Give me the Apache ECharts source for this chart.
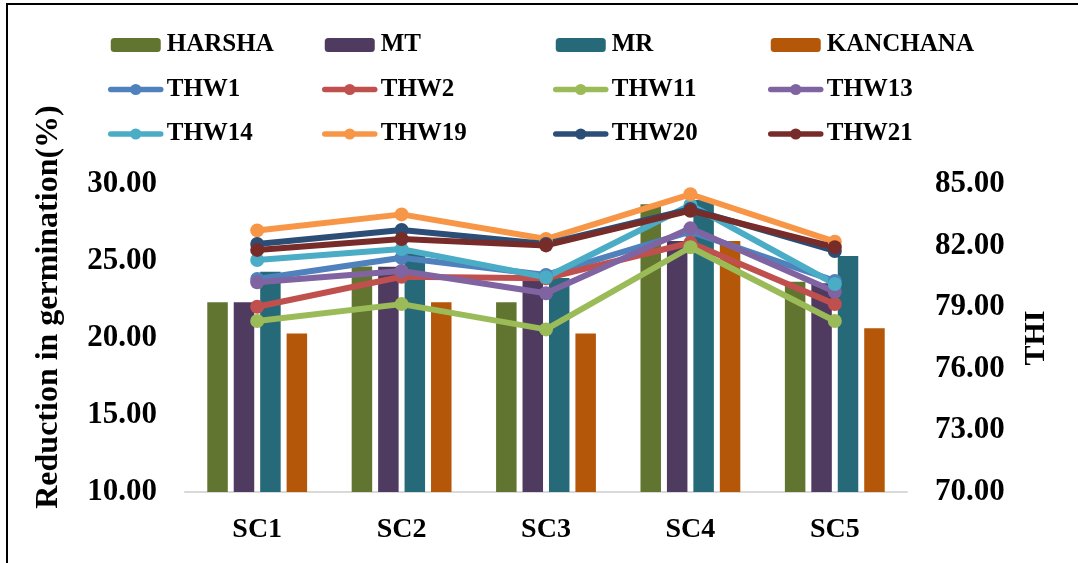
<!DOCTYPE html>
<html>
<head>
<meta charset="utf-8">
<script src="https://cdn.jsdelivr.net/npm/echarts@6/dist/echarts.min.js"></script>
<style>
  html, body { margin: 0; padding: 0; background: #ffffff; }
  #chart { width: 1078px; height: 563px; }
</style>
</head>
<body>
<div id="chart"></div>
<script>
// Sowing conditions on the category axis
const categories = ['SC1', 'SC2', 'SC3', 'SC4', 'SC5'];

// Reduction in germination (%) per variety (left axis, bars)
const harsha   = [22.32, 24.65, 22.32, 28.68, 23.66];
const mt       = [22.32, 24.63, 23.70, 26.30, 23.55];
const mr       = [24.31, 25.50, 23.90, 28.96, 25.32];
const kanchana = [20.30, 22.32, 20.30, 26.30, 20.63];

// Temperature-humidity index per weather station (right axis, lines)
const thw1  = [80.37, 81.41, 80.57, 82.68, 80.28];
const thw2  = [79.02, 80.48, 80.41, 82.14, 79.15];
const thw11 = [78.33, 79.15, 77.92, 81.92, 78.33];
const thw13 = [80.21, 80.76, 79.68, 82.84, 79.75];
const thw14 = [81.30, 81.83, 80.46, 83.98, 80.13];
const thw19 = [82.74, 83.52, 82.32, 84.50, 82.19];
const thw20 = [82.08, 82.76, 82.08, 83.78, 81.74];
const thw21 = [81.79, 82.32, 82.01, 83.70, 81.92];

// Axis tick values
const leftTicks  = [10, 15, 20, 25, 30];
const rightTicks = [70, 73, 76, 79, 82, 85];

const FONT = "'Liberation Serif', 'Times New Roman', serif";

const barSeries = [
  { name: 'HARSHA',   data: harsha,   color: '#627530' },
  { name: 'MT',       data: mt,       color: '#4F3A60' },
  { name: 'MR',       data: mr,       color: '#266A7A' },
  { name: 'KANCHANA', data: kanchana, color: '#B55709' }
];

const lineSeries = [
  { name: 'THW1',  data: thw1,  color: '#4F81BD' },
  { name: 'THW2',  data: thw2,  color: '#C0504D' },
  { name: 'THW11', data: thw11, color: '#9BBB59' },
  { name: 'THW13', data: thw13, color: '#8064A2' },
  { name: 'THW14', data: thw14, color: '#4BACC6' },
  { name: 'THW19', data: thw19, color: '#F79646' },
  { name: 'THW20', data: thw20, color: '#2C4D75' },
  { name: 'THW21', data: thw21, color: '#772C2A' }
];

// Four legend columns, three rows each
const legendColumns = [
  { left: 108, names: ['HARSHA', 'THW1', 'THW14'] },
  { left: 322, names: ['MT', 'THW2', 'THW19'] },
  { left: 553, names: ['MR', 'THW11', 'THW20'] },
  { left: 768, names: ['KANCHANA', 'THW13', 'THW21'] }
];

const series = [];
barSeries.forEach(s => {
  series.push({
    name: s.name,
    type: 'bar',
    yAxisIndex: 0,
    data: s.data,
    barWidth: 20.5,
    barGap: '29%',
    itemStyle: { color: s.color },
    emphasis: { disabled: true }
  });
});
lineSeries.forEach(s => {
  series.push({
    name: s.name,
    type: 'line',
    yAxisIndex: 1,
    data: s.data,
    symbol: 'circle',
    symbolSize: 14,
    lineStyle: { width: 6, color: s.color, cap: 'round', join: 'round' },
    itemStyle: { color: s.color },
    emphasis: { disabled: true }
  });
});

const chart = echarts.init(document.getElementById('chart'), null, { renderer: 'canvas' });

chart.setOption({
  animation: false,
  backgroundColor: '#ffffff',
  textStyle: { fontFamily: FONT },
  graphic: [{
    type: 'rect',
    shape: { x: 7, y: 4, width: 1300, height: 800 },
    style: { fill: 'none', stroke: '#000000', lineWidth: 2 },
    silent: true
  }],
  legend: legendColumns.map(col => ({
    orient: 'vertical',
    left: col.left,
    top: 30,
    padding: 0,
    itemWidth: 50,
    itemHeight: 14,
    itemGap: 14.5,
    data: col.names,
    selectedMode: false,
    lineStyle: { width: 5.5, cap: 'round' },
    textStyle: {
      fontFamily: FONT,
      fontWeight: 'bold',
      fontSize: 25,
      color: '#000000',
      lineHeight: 30,
      padding: [0, 0, 0, 1]
    }
  })),
  grid: { left: 185, right: 171, top: 184, bottom: 71 },
  xAxis: {
    type: 'category',
    data: categories,
    axisLine: { show: true, lineStyle: { color: '#D9D9D9', width: 2 } },
    axisTick: { show: false },
    axisLabel: {
      fontFamily: FONT,
      fontWeight: 'bold',
      fontSize: 28,
      color: '#000000',
      margin: 24
    }
  },
  yAxis: [
    {
      type: 'value',
      min: leftTicks[0],
      max: leftTicks[leftTicks.length - 1],
      interval: 5,
      name: 'Reduction in germination(%)',
      nameLocation: 'middle',
      nameRotate: 90,
      nameGap: 120,
      nameTextStyle: {
        fontFamily: FONT,
        fontWeight: 'bold',
        fontSize: 32,
        color: '#000000',
        padding: [0, 0, 0, 62]
      },
      axisLine: { show: false },
      axisTick: { show: false },
      splitLine: { show: false },
      axisLabel: {
        fontFamily: FONT,
        fontWeight: 'bold',
        fontSize: 31,
        color: '#000000',
        margin: 28,
        formatter: v => v.toFixed(2)
      }
    },
    {
      type: 'value',
      position: 'right',
      min: rightTicks[0],
      max: rightTicks[rightTicks.length - 1],
      interval: 3,
      name: 'THI',
      nameLocation: 'middle',
      nameRotate: 90,
      nameGap: 114,
      nameTextStyle: {
        fontFamily: FONT,
        fontWeight: 'bold',
        fontSize: 30,
        color: '#000000'
      },
      axisLine: { show: false },
      axisTick: { show: false },
      splitLine: { show: false },
      axisLabel: {
        fontFamily: FONT,
        fontWeight: 'bold',
        fontSize: 31,
        color: '#000000',
        margin: 28,
        customValues: rightTicks,
        formatter: v => Number(v).toFixed(2)
      }
    }
  ],
  series: series
});
</script>
</body>
</html>
